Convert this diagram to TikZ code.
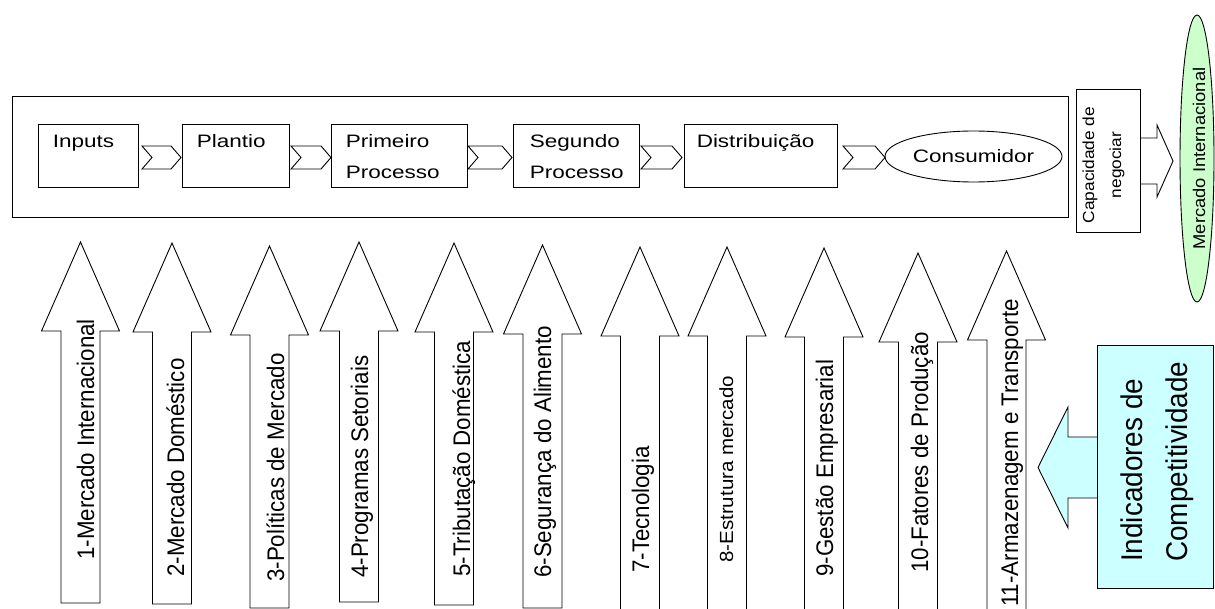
\documentclass[tikz,border=0pt]{standalone}
\usepackage{fontspec}
\setmainfont{Liberation Sans}
\newfontfamily\largo[FakeStretch=1.25]{Liberation Sans}
\newfontfamily\estreito[FakeStretch=0.93]{Liberation Sans}
\newfontfamily\medio[FakeStretch=1.08]{Liberation Sans}
\usetikzlibrary{positioning,shapes.geometric}

\definecolor{ciano}{HTML}{CCFFFF}
\definecolor{verdeclaro}{HTML}{CCFFCC}

\tikzset{
  linha/.style={line width=0.9pt},
  caixa/.style={draw, linha, inner sep=0pt, minimum height=63},
  rotulo/.style={inner sep=0pt, anchor=base west, font=\largo\fontsize{18}{20}\selectfont},
  vertical/.style={inner sep=0pt, anchor=base west, rotate=90, font=\estreito\fontsize{24}{26}\selectfont},
  seta/.style={draw, linha, fill=white}
}

\begin{document}
\begin{tikzpicture}[x=1pt, y=-1pt]
\useasboundingbox (0,0) rectangle (1215,609);
\clip (0,0) rectangle (1215,609);

% cadeia produtiva
\node[caixa, minimum width=1056, minimum height=121] (cadeia) at (540,156.5) {};
\node[caixa, minimum width=100] (inputs) at (88,155.5) {};
\node[caixa, minimum width=107] (plantio) at (235.5,155.5) {};
\node[caixa, minimum width=136] (primeiro) at (399,155.5) {};
\node[caixa, minimum width=126] (segundo) at (576,155.5) {};
\node[caixa, minimum width=153] (distrib) at (760.5,155.5) {};
\node[draw, linha, ellipse, inner sep=0pt, minimum width=177, minimum height=51,
      font=\largo\fontsize{18}{20}\selectfont] (consumidor) at (973.5,156.5) {Consumidor};

\node[rotulo] at ([xshift=15pt, yshift=-24pt]inputs.north west) {Inputs};
\node[rotulo] at ([xshift=15pt, yshift=-24pt]plantio.north west) {Plantio};
\node[rotulo] at ([xshift=15pt, yshift=-24pt]primeiro.north west) {Primeiro};
\node[rotulo] at ([xshift=15pt, yshift=-54.5pt]primeiro.north west) {Processo};
\node[rotulo] at ([xshift=17pt, yshift=-24pt]segundo.north west) {Segundo};
\node[rotulo] at ([xshift=17pt, yshift=-54.5pt]segundo.north west) {Processo};
\node[rotulo] at ([xshift=13pt, yshift=-24pt]distrib.north west) {Distribuição};

% setas entre as etapas
\foreach \xa/\xb in {142/181, 291/331, 468/512, 641/682, 843/885}
  \draw[seta] (\xa,146) -- (\xb-10,146) -- (\xb,157.5) -- (\xb-10,169) -- (\xa,169) -- (\xa+10,157.5) -- cycle;

% mercado internacional
\node[caixa, minimum width=64, minimum height=143] (capac) at (1108,160.5) {};
\node[rotate=90, align=center, inner sep=0pt, font=\medio\fontsize{16}{27}\selectfont]
  at (1103.5,165) {Capacidade de\\negociar};
\draw[linha] (1140,138) -- (1157,138) -- (1157,125) -- (1173,161) -- (1157,197) -- (1157,184) -- (1140,184);
\node[draw, linha, ellipse, fill=verdeclaro, inner sep=0pt, minimum width=34, minimum height=287] (mercado) at (1197,158.5) {};
\node[rotate=90, inner sep=0pt, font=\medio\fontsize{17}{18}\selectfont] at ([xshift=2pt]mercado.center) {Mercado Internacional};

% indicadores
\foreach \xc/\yt/\yb in {80.5/242/603, 172/243/604, 269.5/246/608, 359/242/602, 454/243/605, 542.5/245/608,
                         640/247/620, 727/247/620, 824/248/620, 918/253/620, 1006.5/251/620}
  \draw[seta] (\xc-19.5,\yb) -- (\xc-19.5,\yt+89) -- (\xc-39,\yt+89) -- (\xc,\yt)
              -- (\xc+39,\yt+89) -- (\xc+19.5,\yt+89) -- (\xc+19.5,\yb) -- cycle;

\foreach \bx/\sy/\texto in {94/560/{1-Mercado Internacional}, 184/577/{2-Mercado Doméstico},
    284/582/{3-Políticas de Mercado}, 368/578/{4-Programas Setoriais}, 470/577/{5-Tributação Doméstica},
    551/578/{6-Segurança do Alimento}, 649/573/{7-Tecnologia}, 833/577/{9-Gestão Empresarial},
    928/573/{10-Fatores de Produção}, 1018/607/{11-Armazenagem e Transporte}}
  \node[vertical] at (\bx,\sy) {\texto};
\node[vertical, font=\medio\fontsize{19}{20}\selectfont] at (733,563) {8-Estrutura mercado};

\draw[linha, fill=ciano] (1097,437) -- (1068,437) -- (1068,407) -- (1038,467.5) -- (1068,528) -- (1068,498) -- (1097,498);
\node[caixa, fill=ciano, minimum width=116, minimum height=243] (indic) at (1155,466.5) {};
\node[rotate=90, anchor=west, align=left, inner sep=0pt, font=\estreito\fontsize{30}{45}\selectfont]
  at (1157.5,562) {Indicadores de\\Competitividade};
\end{tikzpicture}
\end{document}
